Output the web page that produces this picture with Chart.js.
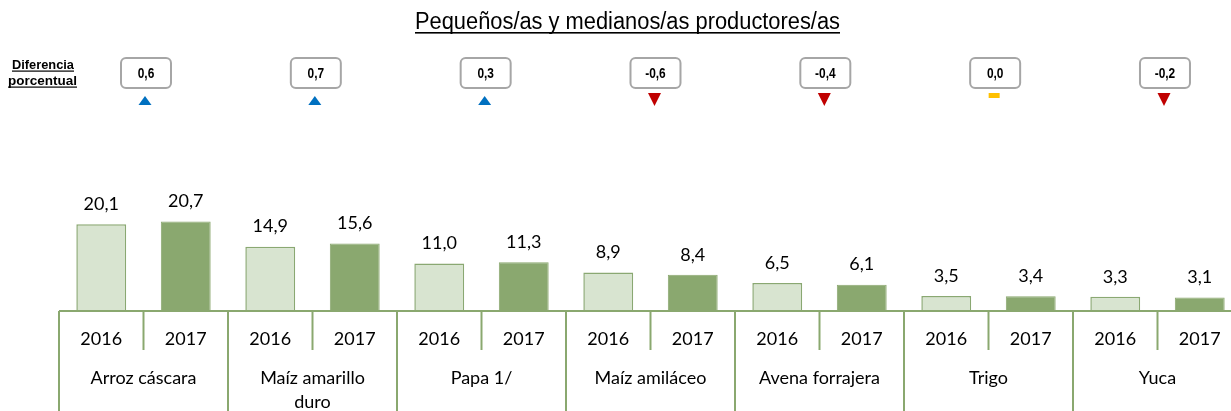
<!DOCTYPE html>
<html>
<head>
<meta charset="utf-8">
<script src="https://cdn.jsdelivr.net/npm/chart.js@4/dist/chart.umd.min.js"></script>
<style>
  html, body { margin: 0; padding: 0; overflow: hidden; background: #fff; }
  #wrap { width: 1245px; height: 411px; }
</style>
</head>
<body>
<div id="wrap"><canvas id="chart1" width="1245" height="411"></canvas></div>
<script>
const categorias = [['Arroz cáscara'], ['Maíz amarillo', 'duro'], ['Papa 1/'], ['Maíz amiláceo'], ['Avena forrajera'], ['Trigo'], ['Yuca']];
const anios = ['2016', '2017'];
const valores2016 = [20.1, 14.9, 11.0, 8.9, 6.5, 3.5, 3.3];
const valores2017 = [20.7, 15.6, 11.3, 8.4, 6.1, 3.4, 3.1];
const diferencias = [0.6, 0.7, 0.3, -0.6, -0.4, 0.0, -0.2];

const titulo = 'Pequeños/as y medianos/as productores/as';
const verde = '#8aa86f';

function fmt(v) {
    return v.toFixed(1).replace('.', ',');
}

// condensed text: draws text scaled horizontally to a given width
function textoAncho(ctx, txt, x, y, ancho) {
    const w = ctx.measureText(txt).width;
    ctx.save();
    ctx.translate(x, y);
    ctx.scale(ancho / w, 1);
    ctx.fillText(txt, 0, 0);
    ctx.restore();
}

const dibujos = {
    id: 'dibujos',
    afterDraw(chart) {
        const ctx = chart.ctx;
        const area = chart.chartArea;
        const xs = chart.scales.x;
        const n = categorias.length;
        const anchoGrupo = (area.right - area.left) / n;
        const base = area.bottom;

        ctx.save();

        // axis line
        ctx.strokeStyle = verde;
        ctx.lineWidth = 2;
        ctx.beginPath();
        ctx.moveTo(area.left, base);
        ctx.lineTo(area.right, base);
        ctx.stroke();

        // separators
        for (let i = 0; i <= n; i++) {
            const x = area.left + i * anchoGrupo;
            ctx.beginPath();
            ctx.moveTo(x, base);
            ctx.lineTo(x, 411);
            ctx.stroke();
        }
        for (let i = 0; i < n; i++) {
            const x = xs.getPixelForValue(i);
            ctx.beginPath();
            ctx.moveTo(x, base);
            ctx.lineTo(x, base + 39);
            ctx.stroke();
        }

        // year labels + value labels
        ctx.fillStyle = '#000';
        ctx.textAlign = 'center';
        ctx.textBaseline = 'middle';
        ctx.font = '18px Lato';
        chart.data.datasets.forEach(function (ds, d) {
            const meta = chart.getDatasetMeta(d);
            meta.data.forEach(function (bar, i) {
                ctx.fillText(anios[d], bar.x, base + 28);
                ctx.fillText(fmt(ds.data[i]), bar.x, bar.y - 20);
            });
        });

        // category labels
        categorias.forEach(function (lineas, i) {
            const x = xs.getPixelForValue(i);
            lineas.forEach(function (l, k) {
                ctx.fillText(l, x, base + 67 + k * 24);
            });
        });

        // title
        ctx.font = '23px "Liberation Sans"';
        ctx.textAlign = 'left';
        ctx.textBaseline = 'alphabetic';
        const tx = 415, tw = 425;
        textoAncho(ctx, titulo, tx, 29, tw);
        ctx.fillRect(tx, 32, tw, 1.6);

        // "Diferencia porcentual"
        ctx.font = 'bold 12px "Liberation Sans"';
        textoAncho(ctx, 'Diferencia', 12, 69, 62);
        ctx.fillRect(12, 70.5, 62, 1.2);
        textoAncho(ctx, 'porcentual', 8, 85, 69);
        ctx.fillRect(8, 86.5, 69, 1.2);

        // difference boxes and markers
        diferencias.forEach(function (v, i) {
            const cx = xs.getPixelForValue(i) + 2.5 + i * 0.83;
            const bw = 50, bh = 30, by = 58;
            ctx.beginPath();
            ctx.roundRect(cx - bw / 2, by, bw, bh, 5);
            ctx.fillStyle = '#fff';
            ctx.fill();
            ctx.strokeStyle = '#a6a6a6';
            ctx.lineWidth = 2;
            ctx.stroke();

            ctx.fillStyle = '#000';
            ctx.font = 'bold 14px "Liberation Sans"';
            ctx.textAlign = 'left';
            ctx.textBaseline = 'middle';
            const txt = fmt(v);
            const w = ctx.measureText(txt).width * 0.85;
            textoAncho(ctx, txt, cx - w / 2, by + bh / 2 + 1, w);

            const mx = cx - 1;
            ctx.beginPath();
            if (v > 0) {
                ctx.fillStyle = '#0070c0';
                ctx.moveTo(mx, 96);
                ctx.lineTo(mx + 6.5, 105);
                ctx.lineTo(mx - 6.5, 105);
                ctx.closePath();
                ctx.fill();
            } else if (v < 0) {
                ctx.fillStyle = '#c00000';
                ctx.moveTo(mx - 6.5, 93);
                ctx.lineTo(mx + 6.5, 93);
                ctx.lineTo(mx, 106);
                ctx.closePath();
                ctx.fill();
            } else {
                ctx.fillStyle = '#ffc000';
                ctx.fillRect(mx - 5.5, 93, 11, 5);
            }
        });

        ctx.restore();
    }
};

const data1 = {
    labels: categorias.map(function (c) { return c.join(' '); }),
    datasets: [{
        label: anios[0],
        data: valores2016,
        backgroundColor: '#d8e4d0',
        borderColor: '#8aa872',
        borderWidth: 1.5,
        categoryPercentage: 1,
        barPercentage: 0.59
    }, {
        label: anios[1],
        data: valores2017,
        backgroundColor: verde,
        borderColor: verde,
        borderWidth: 1,
        categoryPercentage: 1,
        barPercentage: 0.59
    }]
};

const config1 = {
    type: 'bar',
    data: data1,
    options: {
        responsive: false,
        animation: false,
        layout: {
            padding: { left: 59, right: 3, top: 203, bottom: 100 }
        },
        scales: {
            x: { display: false },
            y: { display: false, min: 0, max: 25 }
        },
        plugins: {
            legend: { display: false },
            tooltip: { enabled: false }
        }
    },
    plugins: [dibujos]
};

const ctx1 = document.getElementById('chart1').getContext('2d');
new Chart(ctx1, config1);
</script>
</body>
</html>
